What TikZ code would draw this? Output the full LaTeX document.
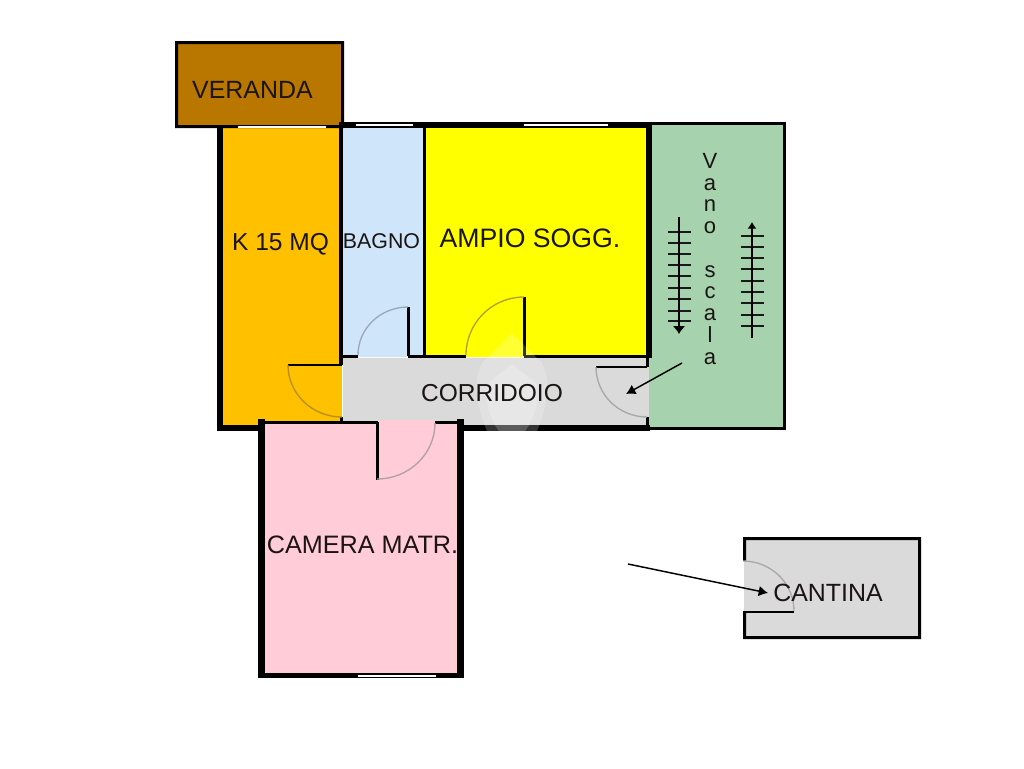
\documentclass[tikz,border=0pt]{standalone}
\usepackage{fontspec}
\setmainfont{Liberation Sans}
\usetikzlibrary{arrows.meta}
\definecolor{txt}{HTML}{1A1414}
\definecolor{cVer}{HTML}{B97700}
\definecolor{cKit}{HTML}{FFC000}
\definecolor{cBag}{HTML}{CFE5FA}
\definecolor{cSog}{HTML}{FFFF00}
\definecolor{cGrn}{HTML}{A6D3AE}
\definecolor{cCor}{HTML}{DADADA}
\definecolor{cCam}{HTML}{FFCCD8}
\definecolor{arcB}{HTML}{9AA8B8}
\definecolor{arcY}{HTML}{B0A030}
\definecolor{arcO}{HTML}{B89020}
\definecolor{arcG}{HTML}{A8A8A8}
\definecolor{arcP}{HTML}{B0A0A8}
\tikzset{
  x=0.75pt,y=-0.75pt,
  roomfill/.style={fill=#1,draw=none},
  wall/.style={fill=black,draw=none},
  win/.style={fill=white,draw=none},
  leaf/.style={draw=black,line width=2.1pt,line cap=butt},
  swing/.style={draw=#1,line width=1pt},
  tick/.style={draw=black!90,line width=1pt},
  label/.style={text=txt,inner sep=0pt,anchor=center},
}
\newcommand{\rct}[3]{\path[#1] #2 rectangle #3;}
\begin{document}
\begin{tikzpicture}
\useasboundingbox[fill=white] (0,0) rectangle (1024,768);
% room fills
\rct{roomfill=cKit}{(220,128)}{(342,428)}
\rct{roomfill=cBag}{(342,128)}{(424,357)}
\rct{roomfill=cSog}{(424,128)}{(647,357)}
\rct{roomfill=cGrn}{(649,124)}{(785,429)}
\rct{roomfill=cCor}{(343,358)}{(649,425)}
\rct{roomfill=cCam}{(262,423)}{(460,675)}
\rct{roomfill=cVer}{(176,42)}{(343,127)}
\rct{roomfill=cCor}{(744,538)}{(920,638)}
% pink door opening in corridor bottom
\rct{roomfill=cCam}{(378,420)}{(435,424)}
% veranda border
\path[wall] (175,41) rectangle (344,44) (175,41) rectangle (178,128) (341,41) rectangle (344,128) (175,125) rectangle (344,128);
% outer walls main block
\rct{wall}{(217,125)}{(223,431)}
\rct{wall}{(217,425)}{(262,431)}
\rct{wall}{(339,122)}{(342.5,365)}
\rct{wall}{(342,122)}{(652,128)}
\rct{wall}{(423,122)}{(425.7,358)}
\rct{wall}{(645.7,122)}{(652,358)}
\rct{wall}{(652,122)}{(786,125)}
\rct{wall}{(783,122)}{(786,430)}
\rct{wall}{(649,427)}{(786,430)}
\rct{wall}{(460,425)}{(650,431)}
\rct{wall}{(646,355)}{(649,367)}
\rct{wall}{(646,417)}{(649,426)}
% corridor top wall with door openings
\rct{wall}{(342,355)}{(358,358)}
\rct{wall}{(408,355)}{(466,358)}
\rct{wall}{(524,355)}{(648,358)}
\rct{wall}{(340,417)}{(343,421)}
% camera walls
\rct{wall}{(258,419)}{(265,678)}
\rct{wall}{(457,419)}{(464,678)}
\rct{wall}{(258,673)}{(464,678)}
\rct{wall}{(262,421)}{(378,424)}
\rct{wall}{(435,421)}{(464,424)}
% windows
\rct{win}{(238,126)}{(326,127.6)}
\rct{win}{(356,124)}{(413,126)}
\rct{win}{(524,124)}{(608,126)}
\rct{win}{(358,674.5)}{(436,676.5)}
% door leaves and swings
\draw[leaf] (408.5,307) -- (408.5,356);
\draw[swing=arcB] (408,307) arc[start angle=-90,end angle=-180,x radius=50,y radius=48];
\draw[leaf] (524.5,297) -- (524.5,356);
\draw[swing=arcY] (524,297) arc[start angle=-90,end angle=-180,x radius=58,y radius=58];
\draw[draw=black,line width=1.8pt] (288,365) -- (342,365);
\draw[swing=arcO] (288,365) arc[start angle=180,end angle=90,x radius=54,y radius=52];
\draw[leaf] (377.5,422) -- (377.5,480);
\draw[swing=arcP] (377,479) arc[start angle=90,end angle=0,x radius=58,y radius=56];
\draw[line width=1.6pt] (596,367) -- (647,367);
\draw[swing=arcG] (596,367) arc[start angle=180,end angle=90,x radius=51,y radius=50];
% watermark
\path[fill=white,opacity=0.2] (512,333) -- (541,362) .. controls (552,378) and (548,405) .. (537,431) -- (487,431) .. controls (476,405) and (472,378) .. (483,362) -- cycle;
\path[fill=white,opacity=0.2] (512,364) -- (537,384) .. controls (540,400) and (534,420) .. (525,431) -- (499,431) .. controls (490,420) and (484,400) .. (487,384) -- cycle;
% stairs
\foreach \yy in {232,243,254,265,276,288,299,311,321} \draw[tick] (668,\yy) -- (691,\yy);
\foreach \yy in {236,247,258,269,281,292,303,315,326} \draw[tick] (741,\yy) -- (764,\yy);
\coordinate (downA) at (679,217); \coordinate (downB) at (679,334);
\coordinate (upA) at (752,338); \coordinate (upB) at (752,222);
\draw[line width=1.1pt,-{Latex[length=6pt,width=9.5pt]}] (downA) -- (downB);
\draw[line width=1.1pt,-{Latex[length=5pt,width=7pt]}] (upA) -- (upB);
\coordinate (corA) at (682,363); \coordinate (corB) at (626,394);
\draw[line width=1.1pt,-{Latex[length=7pt,width=8pt]}] (corA) -- (corB);
% cantina
\path[wall] (743,537) rectangle (921,540) (918,537) rectangle (921,639) (743,636) rectangle (921,639) (743,537) rectangle (746,561) (743,612) rectangle (746,639);
\rct{wall}{(743,611)}{(794,613)}
\draw[swing=arcG] (743,561) arc[start angle=-90,end angle=0,x radius=51,y radius=50];
\coordinate (canA) at (628,564); \coordinate (canB) at (768,593);
\draw[line width=1.1pt,-{Latex[length=7pt,width=8pt]}] (canA) -- (canB);
% labels
\node[label,font=\fontsize{18.7pt}{20pt}\selectfont] (veranda) at (252.5,90) {VERANDA};
\node[label,font=\fontsize{18.4pt}{20pt}\selectfont] (kitchen) at (280.5,244) {K 15 MQ};
\node[label,font=\fontsize{16pt}{18pt}\selectfont] (bagno) at (381.5,241) {BAGNO};
\node[label,font=\fontsize{20pt}{22pt}\selectfont] (soggiorno) at (530,238) {AMPIO SOGG.};
\node[label,font=\fontsize{18.4pt}{20pt}\selectfont] (corridoio) at (492,393) {CORRIDOIO};
\node[label,font=\fontsize{18.9pt}{20pt}\selectfont] (camera) at (362.5,545) {CAMERA MATR.};
\node[label,font=\fontsize{18.7pt}{20pt}\selectfont] (cantina) at (828,593) {CANTINA};
\node[text=txt,inner sep=0pt,anchor=north,align=center,font=\fontsize{16.5pt}{16.3pt}\selectfont] (vano) at (710,153) {V\\a\\n\\o\\ \\s\\c\\a\\l\\a};
\end{tikzpicture}
\end{document}
